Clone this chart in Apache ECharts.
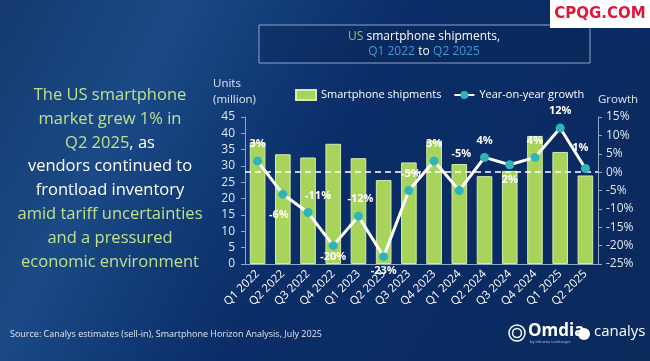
<!DOCTYPE html>
<html><head><meta charset="utf-8">
<script src="https://cdn.jsdelivr.net/npm/echarts@6/dist/echarts.min.js"></script>
<style>
html,body{margin:0;padding:0;}
#c{width:650px;height:361px;background:linear-gradient(118deg,#143a6e 0%,#1b4a86 22%,#123c78 34%,#0b2e68 48%,#0a2b62 75%,#0b2a5c 100%);}
</style></head><body><div id="c"></div>
<script>
const categories = ['Q1 2022','Q2 2022','Q3 2022','Q4 2022','Q1 2023','Q2 2023','Q3 2023','Q4 2023','Q1 2024','Q2 2024','Q3 2024','Q4 2024','Q1 2025','Q2 2025'];
const shipments = [37.3, 33.6, 32.6, 36.8, 32.4, 25.7, 31.1, 37.8, 30.6, 26.9, 28.5, 39.2, 34.3, 27.1];
const growth = [3, -6, -11, -20, -12, -23, -5, 3, -5, 4, 2, 4, 12, 1];
const growthLabels = ['3%','-6%','-11%','-20%','-12%','-23%','-5%','3%','-5%','4%','2%','4%','12%','1%'];
const leftTicks = [0, 45, 5];
const rightTicks = [-25, 15, 5];

// label placement (style only)
const labelPlace = [
  {position:'top', offset:[0,-2]},
  {position:'bottom', offset:[-4,6]},
  {position:'top', offset:[10,-2]},
  {position:'bottom', offset:[0,-4]},
  {position:'top', offset:[2,-2]},
  {position:'bottom', offset:[0,-1]},
  {position:'top', offset:[2,-2]},
  {position:'top', offset:[0,-2]},
  {position:'top', offset:[2,-22]},
  {position:'top', offset:[0,-2]},
  {position:'bottom', offset:[0,0]},
  {position:'top', offset:[0,-2]},
  {position:'top', offset:[0,-2]},
  {position:'top', offset:[-5,-6]}
];

const chart = echarts.init(document.getElementById('c'), null, {renderer:'canvas'});
const lineData = growth.map((v,i)=>({
  value:v,
  label:Object.assign({show:true, formatter:growthLabels[i]}, labelPlace[i])
}));

const leftText = [
  [{t:'The US smartphone',c:'#bfe08c'}],
  [{t:'market grew 1% in',c:'#bfe08c'}],
  [{t:'Q2 2025',c:'#bfe08c'},{t:', as',c:'#ffffff'}],
  [{t:'vendors continued to',c:'#ffffff'}],
  [{t:'frontload inventory',c:'#ffffff'}],
  [{t:'amid tariff uncertainties',c:'#bfe08c'}],
  [{t:'and a pressured',c:'#bfe08c'}],
  [{t:'economic environment',c:'#bfe08c'}]
];
const graphics = [];
leftText.forEach((parts,i)=>{
  let rich = {}, txt = '';
  parts.forEach((p,j)=>{ rich['p'+j] = {fill:p.c, fontSize:16.5, fontFamily:'Open Sans'}; txt += '{p'+j+'|'+p.t+'}'; });
  graphics.push({type:'text', x:110, y:95+i*23.9, style:{text:txt, rich:rich, align:'center', verticalAlign:'middle', fontSize:16.5, fontFamily:'Open Sans'}});
});
graphics.push(
  {type:'rect', shape:{x:259, y:25, width:331, height:38}, style:{fill:'rgba(10,35,80,0.35)', stroke:'#8aa6c8', lineWidth:1}},
  {type:'text', x:424, y:37, style:{text:'{g|US} {w|smartphone shipments,}', align:'center', verticalAlign:'middle', rich:{g:{fill:'#8cc56a',fontSize:12,fontFamily:'Open Sans'},w:{fill:'#ffffff',fontSize:12,fontFamily:'Open Sans'}}}},
  {type:'text', x:424, y:52, style:{text:'{b|Q1 2022} {w|to} {b|Q2 2025}', align:'center', verticalAlign:'middle', rich:{b:{fill:'#3b9ccf',fontSize:12,fontFamily:'Open Sans'},w:{fill:'#ffffff',fontSize:12,fontFamily:'Open Sans'}}}},
  {type:'text', x:213, y:84, style:{text:'Units', fill:'#dfe6f0', fontSize:11.5, fontFamily:'Open Sans', verticalAlign:'middle'}},
  {type:'text', x:213, y:100, style:{text:'(million)', fill:'#dfe6f0', fontSize:11.5, fontFamily:'Open Sans', verticalAlign:'middle'}},
  {type:'text', x:598, y:100, style:{text:'Growth', fill:'#dfe6f0', fontSize:11.5, fontFamily:'Open Sans', verticalAlign:'middle'}},
  {type:'text', x:10, y:334, style:{text:'Source: Canalys estimates (sell-in), Smartphone Horizon Analysis, July 2025', fill:'#dfe6f0', fontSize:9, fontFamily:'Liberation Sans Narrow, Open Sans', verticalAlign:'middle'}},
  {type:'circle', shape:{cx:517, cy:333, r:8}, style:{fill:'none', stroke:'#ffffff', lineWidth:1.5}},
  {type:'circle', shape:{cx:517, cy:333, r:4.5}, style:{fill:'none', stroke:'#ffffff', lineWidth:1.5}},
  {type:'text', x:528, y:331, style:{text:'Omdia', fill:'#ffffff', fontSize:17, fontWeight:'bold', fontFamily:'Open Sans', verticalAlign:'middle'}},
  {type:'text', x:530, y:342, style:{text:'by informa techtarget', fill:'#c0c8d8', fontSize:4, fontFamily:'Open Sans', verticalAlign:'middle'}},
  {type:'circle', shape:{cx:584, cy:334, r:6}, style:{fill:'#ffffff'}},
  {type:'text', x:594, y:332, style:{text:'canalys', fill:'#ffffff', fontSize:15, fontFamily:'Open Sans', verticalAlign:'middle'}},
  {type:'rect', shape:{x:550, y:0, width:100, height:28}, style:{fill:'#ffffff'}},
  {type:'text', x:600, y:14, style:{text:'CPQG.COM', fill:'#e0173b', fontSize:15, fontWeight:'bold', fontFamily:'DejaVu Sans', align:'center', verticalAlign:'middle'}}
);

chart.setOption({
  animation:false,
  textStyle:{fontFamily:'Open Sans'},
  legend:{
    top:84, left:290, itemGap:12, itemWidth:20, itemHeight:10,
    textStyle:{color:'#ffffff', fontSize:11, fontFamily:'Open Sans'},
    data:[{name:'Smartphone shipments', icon:'rect'},{name:'Year-on-year growth'}]
  },
  grid:{left:245, right:52, top:117, bottom:97},
  xAxis:{
    type:'category', data:categories,
    axisLine:{show:true, lineStyle:{color:'#8fa8c8'}},
    axisTick:{show:false},
    axisLabel:{color:'#ffffff', fontSize:11.5, rotate:45, margin:8, fontFamily:'Open Sans'}
  },
  yAxis:[
    {type:'value', min:leftTicks[0], max:leftTicks[1], interval:leftTicks[2],
     axisLine:{show:true, lineStyle:{color:'#8fa8c8'}}, axisTick:{show:true, length:4, lineStyle:{color:'#8fa8c8'}},
     splitLine:{show:false},
     axisLabel:{color:'#dfe6f0', fontSize:12, margin:10, fontFamily:'Open Sans'}},
    {type:'value', min:rightTicks[0], max:rightTicks[1], interval:rightTicks[2],
     axisLine:{show:true, lineStyle:{color:'#8fa8c8'}}, axisTick:{show:true, length:4, lineStyle:{color:'#8fa8c8'}},
     splitLine:{show:false},
     axisLabel:{color:'#dfe6f0', fontSize:12, margin:8, formatter:'{value}%', fontFamily:'Open Sans'}}
  ],
  series:[
    {name:'Smartphone shipments', type:'bar', data:shipments, barWidth:'62%',
     itemStyle:{color:'#a8d45c', borderColor:'#d4ebae', borderWidth:1}, z:2},
    {name:'Year-on-year growth', type:'line', yAxisIndex:1, data:lineData,
     lineStyle:{color:'#ffffff', width:3}, symbol:'circle', symbolSize:9,
     itemStyle:{color:'#2fb5b8', borderColor:'#ffffff', borderWidth:0},
     label:{color:'#ffffff', fontSize:11, fontWeight:'bold', fontFamily:'Open Sans', textBorderColor:'rgba(0,0,0,0)'},
     markLine:{silent:true, symbol:'none', label:{show:false}, lineStyle:{color:'#ffffff', type:[6,4], width:1.5},
       data:[{yAxis:0}]},
     z:5}
  ],
  graphic:graphics
});
</script></body></html>
